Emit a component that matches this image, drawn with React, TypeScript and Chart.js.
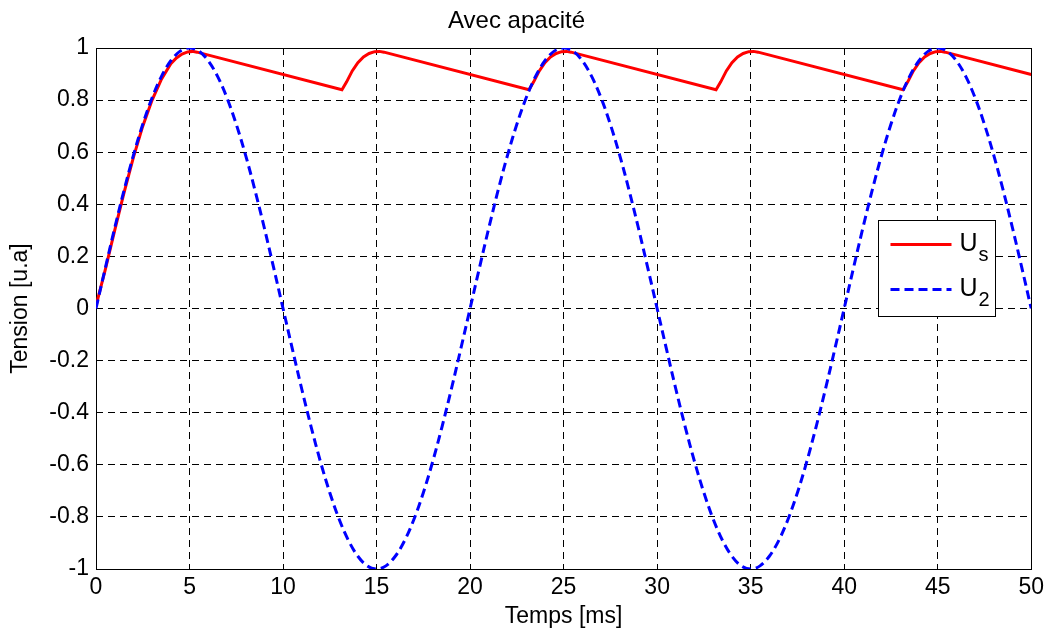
import React, { useEffect, useRef } from "react";
import { Chart, registerables } from "chart.js";

Chart.register(...registerables);

const TITLE = "Avec apacité";
const X_LABEL = "Temps [ms]";
const Y_LABEL = "Tension [u.a]";
const X_MIN = 0;
const X_MAX = 50;
const X_STEP = 5;
const Y_MIN = -1;
const Y_MAX = 1;
const Y_STEP = 0.2;

// U2 sampled every 0.5 ms from 0 to 50 ms
const U2_STEP_MS = 0.5;
const U2_VALUES = [
  0, 0.156, 0.309, 0.454, 0.588, 0.707, 0.809, 0.891, 0.951, 0.988, 1,
  0.988, 0.951, 0.891, 0.809, 0.707, 0.588, 0.454, 0.309, 0.156, 0,
  -0.156, -0.309, -0.454, -0.588, -0.707, -0.809, -0.891, -0.951, -0.988, -1,
  -0.988, -0.951, -0.891, -0.809, -0.707, -0.588, -0.454, -0.309, -0.156, 0,
  0.156, 0.309, 0.454, 0.588, 0.707, 0.809, 0.891, 0.951, 0.988, 1,
  0.988, 0.951, 0.891, 0.809, 0.707, 0.588, 0.454, 0.309, 0.156, 0,
  -0.156, -0.309, -0.454, -0.588, -0.707, -0.809, -0.891, -0.951, -0.988, -1,
  -0.988, -0.951, -0.891, -0.809, -0.707, -0.588, -0.454, -0.309, -0.156, 0,
  0.156, 0.309, 0.454, 0.588, 0.707, 0.809, 0.891, 0.951, 0.988, 1,
  0.988, 0.951, 0.891, 0.809, 0.707, 0.588, 0.454, 0.309, 0.156, 0,
];

// Us (rectified + capacitor) points
const US_TIMES = [
  0, 0.5, 1, 1.5, 2, 2.5, 3, 3.5, 4, 4.3, 4.6, 4.9, 5.15, 5.4,
  13.15, 13.4, 13.7, 14, 14.3, 14.6, 14.9, 15.15, 15.4,
  23.15, 23.4, 23.7, 24, 24.3, 24.6, 24.9, 25.15, 25.4,
  33.15, 33.4, 33.7, 34, 34.3, 34.6, 34.9, 35.15, 35.4,
  43.15, 43.4, 43.7, 44, 44.3, 44.6, 44.9, 45.15, 45.4,
  50,
];
const US_VALUES = [
  0.01, 0.15, 0.3, 0.445, 0.58, 0.7, 0.8, 0.88, 0.94, 0.962, 0.977, 0.985, 0.987, 0.984,
  0.84, 0.87, 0.912, 0.944, 0.966, 0.979, 0.986, 0.987, 0.984,
  0.84, 0.87, 0.912, 0.944, 0.966, 0.979, 0.986, 0.987, 0.984,
  0.84, 0.87, 0.912, 0.944, 0.966, 0.979, 0.986, 0.987, 0.984,
  0.84, 0.87, 0.912, 0.944, 0.966, 0.979, 0.986, 0.987, 0.984,
  0.898,
];

const LEGEND_LABELS = [
  { main: "U", sub: "s", color: "#ff0000", dash: [] as number[] },
  { main: "U", sub: "2", color: "#0000ff", dash: [9, 5] },
];

const FONT = "'Liberation Sans', Arial, Helvetica, sans-serif";

const framePlugin = {
  id: "frame",
  beforeDatasetsDraw(chart: any) {
    const { ctx, chartArea: a } = chart;
    ctx.save();
    ctx.strokeStyle = "#000";
    ctx.lineWidth = 1;
    ctx.setLineDash([]);
    ctx.strokeRect(
      Math.round(a.left) + 0.5,
      Math.round(a.top) + 0.5,
      Math.round(a.right - a.left),
      Math.round(a.bottom - a.top)
    );
    ctx.restore();
  },
};

const legendPlugin = {
  id: "matlabLegend",
  afterDatasetsDraw(chart: any) {
    const { ctx, chartArea: a } = chart;
    const left = Math.round(a.right - 153) + 0.5;
    const top = Math.round(a.top + 172) + 0.5;
    const w = 117;
    const h = 96;
    ctx.save();
    ctx.fillStyle = "#fff";
    ctx.fillRect(left, top, w, h);
    ctx.strokeStyle = "#000";
    ctx.lineWidth = 1;
    ctx.setLineDash([]);
    ctx.strokeRect(left, top, w, h);
    LEGEND_LABELS.forEach((item, i) => {
      const ly = top + 24 + i * 45;
      ctx.save();
      ctx.strokeStyle = item.color;
      ctx.lineWidth = 3;
      ctx.setLineDash(item.dash);
      ctx.beginPath();
      ctx.moveTo(left + 12, ly);
      ctx.lineTo(left + 73, ly);
      ctx.stroke();
      ctx.restore();
      ctx.fillStyle = "#000";
      ctx.textBaseline = "alphabetic";
      ctx.textAlign = "left";
      ctx.font = `25px ${FONT}`;
      const base = ly + 6;
      ctx.fillText(item.main, left + 81, base);
      const mw = ctx.measureText(item.main).width;
      ctx.font = `20px ${FONT}`;
      ctx.fillText(item.sub, left + 81 + mw + 1, base + 10);
    });
    ctx.restore();
  },
};

export default function App() {
  const ref = useRef<HTMLCanvasElement | null>(null);

  useEffect(() => {
    if (!ref.current) return;
    const u2Data = U2_VALUES.map((v, i) => ({ x: i * U2_STEP_MS, y: v }));
    const usData = US_TIMES.map((t, i) => ({ x: t, y: US_VALUES[i] }));

    const chart = new Chart(ref.current, {
      type: "line",
      data: {
        datasets: [
          {
            label: "U2",
            data: u2Data,
            borderColor: "#0000ff",
            borderWidth: 3,
            borderDash: [9, 5],
            pointRadius: 0,
            tension: 0.35,
            fill: false,
          },
          {
            label: "Us",
            data: usData,
            borderColor: "#ff0000",
            borderWidth: 3,
            pointRadius: 0,
            tension: 0,
            fill: false,
          },
        ],
      },
      options: {
        responsive: false,
        devicePixelRatio: 1,
        animation: false,
        layout: { padding: { left: 0, right: 16, top: 0, bottom: 0 } },
        plugins: {
          legend: { display: false },
          tooltip: { enabled: false },
          title: {
            display: true,
            text: TITLE,
            color: "#000",
            font: { family: FONT, size: 24, weight: "normal" },
            padding: { top: 7, bottom: 12.2 },
          },
        },
        scales: {
          x: {
            type: "linear",
            min: X_MIN,
            max: X_MAX,
            afterFit: (s: any) => {
              s.height = 63;
            },
            ticks: {
              stepSize: X_STEP,
              color: "#000",
              font: { family: FONT, size: 23 },
              padding: 5,
              maxRotation: 0,
            },
            grid: { color: "#000", lineWidth: 1, drawTicks: false },
            border: { display: false, dash: [7, 5] },
            title: {
              display: true,
              text: X_LABEL,
              color: "#000",
              font: { family: FONT, size: 23 },
              padding: { top: 0, bottom: 2 },
            },
          },
          y: {
            type: "linear",
            min: Y_MIN,
            max: Y_MAX,
            afterFit: (s: any) => {
              s.width = 96;
            },
            ticks: {
              stepSize: Y_STEP,
              color: "#000",
              font: { family: FONT, size: 23 },
              padding: 7,
              callback: (v: any) => String(Number(Number(v).toFixed(1))),
            },
            grid: { color: "#000", lineWidth: 1, drawTicks: false },
            border: { display: false, dash: [7, 5] },
            title: {
              display: true,
              text: Y_LABEL,
              color: "#000",
              font: { family: FONT, size: 23 },
              padding: { top: 7, bottom: 0 },
            },
          },
        },
      },
      plugins: [framePlugin, legendPlugin],
    } as any);
    return () => chart.destroy();
  }, []);

  return (
    <div style={{ position: "absolute", left: 0, top: 0, width: 1049, height: 632, background: "#fff" }}>
      <canvas ref={ref} width={1049} height={632} style={{ width: 1049, height: 632 }} />
    </div>
  );
}
